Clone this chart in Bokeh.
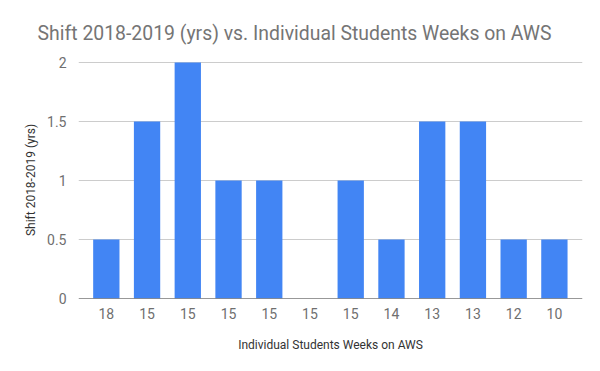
import math
from bokeh.plotting import figure
from bokeh.models import ColumnDataSource, FixedTicker, Range1d, Span
from bokeh.embed import file_html
from bokeh.resources import INLINE

weeks = ["18", "15", "15", "15", "15", "15", "15", "14", "13", "13", "12", "10"]
shift = [0.5, 1.5, 2, 1, 1, 0, 1, 0.5, 1.5, 1.5, 0.5, 0.5]
y_ticks = [0, 0.5, 1, 1.5, 2]

pos = list(range(len(weeks)))
src = ColumnDataSource(dict(x=pos, top=shift))

W, H = 584, 355
p = figure(width=W, height=H, output_backend="svg", toolbar_location=None,
           x_range=Range1d(-0.683, 11.69), y_range=Range1d(0, 2.0085),
           min_border_left=78, min_border_right=2, min_border_top=61,
           min_border_bottom=57, outline_line_color=None,
           title="Shift 2018-2019 (yrs) vs. Individual Students Weeks on AWS")
p.vbar(x="x", top="top", width=0.646, bottom=0, source=src,
       fill_color="#4285F4", line_color=None)

p.title.text_font = "Roboto"
p.title.text_font_size = "19.4px"
p.title.text_font_style = "normal"
p.title.text_color = "#757575"
p.title.align = "right"
p.title.offset = 31
p.title.standoff = 33

p.xgrid.grid_line_color = None
p.ygrid.grid_line_color = "#cccccc"
p.ygrid.ticker = FixedTicker(ticks=y_ticks)

p.xaxis.ticker = FixedTicker(ticks=pos)
p.xaxis.major_label_overrides = {i: w for i, w in enumerate(weeks)}
p.xaxis.axis_line_color = None
p.xaxis.major_tick_line_color = None
p.xaxis.minor_tick_line_color = None
p.xaxis.major_label_standoff = 3
p.xaxis.major_label_text_font = "Roboto"
p.xaxis.major_label_text_font_size = "14px"
p.xaxis.major_label_text_color = "#6f6f6f"
p.xaxis.axis_label = "Individual Students Weeks on AWS"
p.xaxis.axis_label_text_font = "Roboto"
p.xaxis.axis_label_text_font_size = "12px"
p.xaxis.axis_label_text_font_style = "normal"
p.xaxis.axis_label_text_color = "#333333"
p.xaxis.axis_label_standoff = 16

p.yaxis.ticker = FixedTicker(ticks=y_ticks)
p.yaxis.major_label_overrides = {0: "0", 0.5: "0.5", 1: "1", 1.5: "1.5", 2: "2"}
p.yaxis.axis_line_color = None
p.yaxis.major_tick_line_color = None
p.yaxis.minor_tick_line_color = None
p.yaxis.major_label_standoff = 6
p.yaxis.major_label_text_font = "Roboto"
p.yaxis.major_label_text_font_size = "14px"
p.yaxis.major_label_text_color = "#6f6f6f"
p.yaxis.axis_label = "Shift 2018-2019 (yrs)"
p.yaxis.axis_label_text_font = "Roboto"
p.yaxis.axis_label_text_font_size = "12px"
p.yaxis.axis_label_text_font_style = "normal"
p.yaxis.axis_label_text_color = "#333333"
p.yaxis.axis_label_standoff = 6

p.add_layout(Span(location=0, dimension="width", line_color="#333333", line_width=1))

open("out.html", "w").write(file_html(p, INLINE))
